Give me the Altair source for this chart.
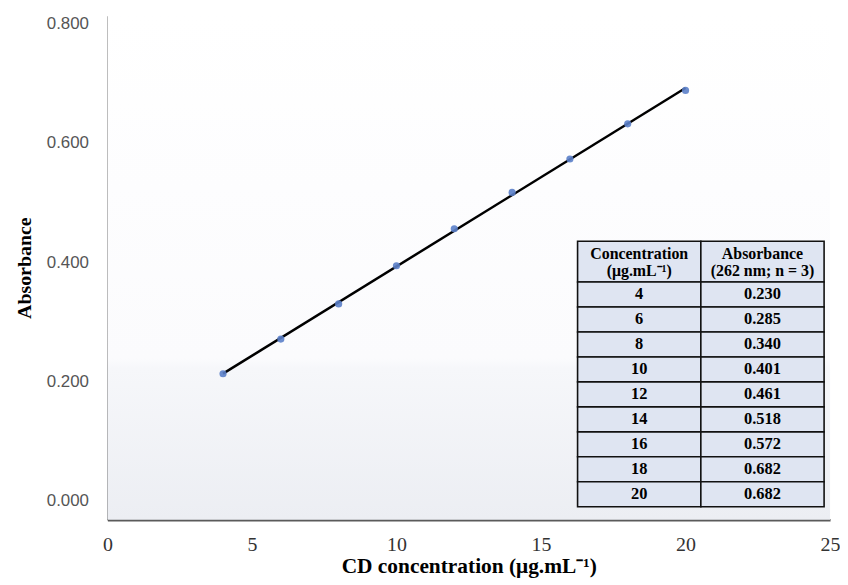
import altair as alt
import pandas as pd

# ---- data ----
CONC = [4, 6, 8, 10, 12, 14, 16, 18, 20]
ABS_PLOTTED = [0.213, 0.271, 0.330, 0.394, 0.456, 0.517, 0.573, 0.632, 0.688]
TABLE_CONC = ["4", "6", "8", "10", "12", "14", "16", "18", "20"]
TABLE_ABS = ["0.230", "0.285", "0.340", "0.401", "0.461", "0.518", "0.572", "0.682", "0.682"]
TABLE_HEAD = ["Concentration\n(μg.mL⁻¹)", "Absorbance\n(262 nm; n = 3)"]
X_TICKS = [0, 5, 10, 15, 20, 25]
Y_TICKS = [0.0, 0.2, 0.4, 0.6, 0.8]
X_DOMAIN = [0, 25]
Y_DOMAIN = [-0.0317, 0.8133]

# table layout (in row / column units)
HEADER_ROWS = 1.63
TABLE_X_RANGE = [473, 721]
TABLE_Y_RANGE = [227, 494]

W, H = 727, 507

pts = pd.DataFrame({"conc": CONC, "abs": ABS_PLOTTED})

xs = alt.Scale(domain=X_DOMAIN, nice=False, zero=False)
ys = alt.Scale(domain=Y_DOMAIN, nice=False, zero=False)

bg = alt.Chart(pd.DataFrame({"x": [X_DOMAIN[0]], "x2": [X_DOMAIN[1]],
                             "y": [Y_DOMAIN[0]], "y2": [Y_DOMAIN[1]]})).mark_rect(
    color=alt.LinearGradient(
        gradient="linear",
        stops=[alt.GradientStop(offset=0, color="#ffffff"),
               alt.GradientStop(offset=0.68, color="#fbfbfd"),
               alt.GradientStop(offset=0.70, color="#f6f7fa"),
               alt.GradientStop(offset=1, color="#eceef3")],
        x1=0, x2=0, y1=0, y2=1),
).encode(
    x=alt.X("x:Q", scale=xs, axis=alt.Axis(
        values=X_TICKS, title="CD concentration (μg.mL⁻¹)", grid=False, ticks=False,
        domainColor="#5a5a5a", domainWidth=2.5, labelFont="Liberation Serif",
        labelFontSize=20, labelColor="#333333", labelPadding=15, labelFlush=False,
        titleFont="Liberation Serif", titleFontSize=21.5, titleFontWeight="bold",
        titleColor="#000000", titlePadding=1)),
    x2="x2:Q",
    y=alt.Y("y:Q", scale=ys, axis=alt.Axis(
        values=Y_TICKS, format=".3f", title="Absorbance", grid=False, ticks=False,
        domainColor="#404040", domainWidth=1.5, labelFont="Liberation Sans",
        labelFontSize=17, labelColor="#555555", labelPadding=19, labelFlush=False,
        titleFont="Liberation Serif", titleFontSize=20, titleFontWeight="bold",
        titleColor="#000000", titlePadding=12)),
    y2="y2:Q",
)

fit = alt.Chart(pts).transform_regression(
    "conc", "abs", method="linear", extent=[CONC[0], CONC[-1]]
).mark_line(color="#000000", strokeWidth=2.5).encode(
    x=alt.X("conc:Q", scale=xs, axis=None),
    y=alt.Y("abs:Q", scale=ys, axis=None),
)

dots = alt.Chart(pts).mark_circle(size=52, color="#5b7fc9", opacity=0.9).encode(
    x=alt.X("conc:Q", scale=xs, axis=None),
    y=alt.Y("abs:Q", scale=ys, axis=None),
)

# ---- table cells ----
cells = []
for c, head in enumerate(TABLE_HEAD):
    cells.append({"c0": c, "c1": c + 1, "r0": -HEADER_ROWS, "r1": 0, "cx": c + 0.5,
                  "cy": -HEADER_ROWS / 2, "txt": head, "head": True})
for i, (a, b) in enumerate(zip(TABLE_CONC, TABLE_ABS)):
    for c, t in enumerate([a, b]):
        cells.append({"c0": c, "c1": c + 1, "r0": i, "r1": i + 1, "cx": c + 0.5,
                      "cy": i + 0.5, "txt": t, "head": False})
cells = pd.DataFrame(cells)

txs = alt.Scale(domain=[0, 2], range=TABLE_X_RANGE, nice=False, zero=False)
tys = alt.Scale(domain=[-HEADER_ROWS, len(TABLE_CONC)], range=TABLE_Y_RANGE, nice=False, zero=False)

tab_rect = alt.Chart(cells).mark_rect(fill="#dfe5f2", stroke="#111111", strokeWidth=1.6).encode(
    x=alt.X("c0:Q", scale=txs, axis=None), x2="c1:Q",
    y=alt.Y("r0:Q", scale=tys, axis=None), y2="r1:Q",
)
tab_body = alt.Chart(cells).transform_filter("!datum.head").mark_text(
    font="Liberation Serif", fontSize=16.5, fontWeight="bold", color="#000000",
    baseline="middle", align="center",
).encode(
    x=alt.X("cx:Q", scale=txs, axis=None),
    y=alt.Y("cy:Q", scale=tys, axis=None),
    text="txt:N",
)
tab_head = alt.Chart(cells).transform_filter("datum.head").mark_text(
    font="Liberation Serif", fontSize=16, fontWeight="bold", color="#000000",
    baseline="middle", align="center", lineBreak="\n", lineHeight=17, dy=-8,
).encode(
    x=alt.X("cx:Q", scale=txs, axis=None),
    y=alt.Y("cy:Q", scale=tys, axis=None),
    text="txt:N",
)

chart = alt.layer(bg, fit, dots, tab_rect, tab_body, tab_head).resolve_scale(
    x="independent", y="independent"
).properties(
    width=W, height=H,
    autosize=alt.AutoSizeParams(type="none"),
    padding={"left": 100, "top": 6, "right": 10, "bottom": 63},
    background="#ffffff",
).configure_view(stroke=None)

chart.save("out.html", embed_options={"renderer": "svg", "actions": False})
